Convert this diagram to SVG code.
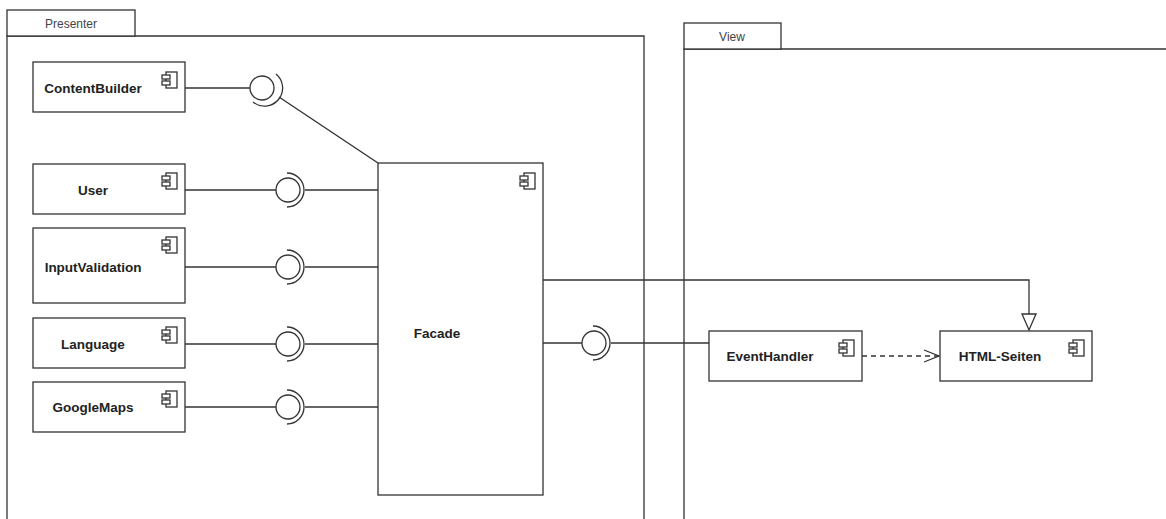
<svg xmlns="http://www.w3.org/2000/svg" width="1166" height="519" viewBox="0 0 1166 519">
<defs>
<style>
.box{fill:#fff;stroke:#333;stroke-width:1.3}
.ln{fill:none;stroke:#333;stroke-width:1.3}
.lbl{font-family:"Liberation Sans",Arial,sans-serif;font-weight:bold;font-size:13.5px;fill:#222;text-anchor:middle}
.pk{font-family:"Liberation Sans",Arial,sans-serif;font-size:12px;fill:#444;text-anchor:middle}
</style>
<g id="ico">
<rect x="4" y="0" width="11" height="16" class="box"/>
<rect x="0" y="3" width="8" height="4" class="box"/>
<rect x="0" y="9" width="8" height="4" class="box"/>
</g>
<marker id="tri" markerWidth="20" markerHeight="20" refX="17" refY="8" orient="auto" markerUnits="userSpaceOnUse">
<path d="M1,1 L17,8 L1,15 Z" fill="#fff" stroke="#333" stroke-width="1.3"/>
</marker>
<marker id="open" markerWidth="20" markerHeight="20" refX="16" refY="7" orient="auto" markerUnits="userSpaceOnUse">
<path d="M1,1 L16,7 L1,13" fill="none" stroke="#333" stroke-width="1.3"/>
</marker>
</defs>
<rect width="1166" height="519" fill="#fff"/>

<g id="pkg-presenter">
<path d="M7,36 H644 V525 H7 Z" class="box"/>
<rect x="7" y="10" width="128" height="26" class="box"/>
<text x="71" y="28" class="pk">Presenter</text>
</g>
<g id="pkg-view">
<path d="M684,49 H1170 V525 H684 Z" class="box"/>
<rect x="684" y="23" width="97" height="26" class="box"/>
<text x="732" y="41" class="pk">View</text>
</g>

<g id="connectors">
<!-- ContentBuilder -->
<line x1="185" y1="88" x2="250" y2="88" class="ln"/>
<circle cx="262" cy="88" r="12" class="ln"/>
<path d="M253,102 A17,17 0 0 0 276,74" class="ln"/>
<line x1="279" y1="97" x2="378" y2="163" class="ln"/>
<!-- User -->
<line x1="185" y1="190" x2="276" y2="190" class="ln"/>
<circle cx="288" cy="190" r="12" class="ln"/>
<path d="M287,173 A17,17 0 0 1 287,207" class="ln"/>
<line x1="305" y1="190" x2="378" y2="190" class="ln"/>
<!-- InputValidation -->
<line x1="185" y1="267" x2="276" y2="267" class="ln"/>
<circle cx="288" cy="267" r="12" class="ln"/>
<path d="M287,250 A17,17 0 0 1 287,284" class="ln"/>
<line x1="305" y1="267" x2="378" y2="267" class="ln"/>
<!-- Language -->
<line x1="185" y1="344" x2="276" y2="344" class="ln"/>
<circle cx="288" cy="344" r="12" class="ln"/>
<path d="M287,327 A17,17 0 0 1 287,361" class="ln"/>
<line x1="305" y1="344" x2="378" y2="344" class="ln"/>
<!-- GoogleMaps -->
<line x1="185" y1="407" x2="276" y2="407" class="ln"/>
<circle cx="288" cy="407" r="12" class="ln"/>
<path d="M287,390 A17,17 0 0 1 287,424" class="ln"/>
<line x1="305" y1="407" x2="378" y2="407" class="ln"/>
<!-- Facade -> EventHandler -->
<line x1="543" y1="343" x2="582" y2="343" class="ln"/>
<circle cx="594" cy="343" r="12" class="ln"/>
<path d="M593,326 A17,17 0 0 1 593,360" class="ln"/>
<line x1="611" y1="343" x2="709" y2="343" class="ln"/>
<!-- Facade -> HTML-Seiten realization -->
<path d="M543,280 H1029 V330" class="ln" marker-end="url(#tri)"/>
<!-- EventHandler -> HTML-Seiten dependency -->
<line x1="862" y1="356" x2="939" y2="356" class="ln" stroke-dasharray="5,4" marker-end="url(#open)"/>
</g>

<g id="ContentBuilder">
<rect x="33" y="62" width="152" height="50" class="box"/>
<use href="#ico" x="162" y="72"/>
<text x="93" y="93" class="lbl">ContentBuilder</text>
</g>
<g id="User">
<rect x="33" y="164" width="152" height="50" class="box"/>
<use href="#ico" x="162" y="173"/>
<text x="93" y="195" class="lbl">User</text>
</g>
<g id="InputValidation">
<rect x="33" y="228" width="152" height="75" class="box"/>
<use href="#ico" x="162" y="237"/>
<text x="93" y="272" class="lbl">InputValidation</text>
</g>
<g id="Language">
<rect x="33" y="318" width="152" height="50" class="box"/>
<use href="#ico" x="162" y="327"/>
<text x="93" y="349" class="lbl">Language</text>
</g>
<g id="GoogleMaps">
<rect x="33" y="382" width="152" height="50" class="box"/>
<use href="#ico" x="162" y="391"/>
<text x="93" y="412" class="lbl">GoogleMaps</text>
</g>
<g id="Facade">
<rect x="378" y="163" width="165" height="332" class="box"/>
<use href="#ico" x="520" y="173"/>
<text x="437" y="338" class="lbl">Facade</text>
</g>
<g id="EventHandler">
<rect x="709" y="331" width="153" height="50" class="box"/>
<use href="#ico" x="839" y="340"/>
<text x="770" y="361" class="lbl">EventHandler</text>
</g>
<g id="HTML-Seiten">
<rect x="940" y="331" width="152" height="50" class="box"/>
<use href="#ico" x="1069" y="340"/>
<text x="1000" y="361" class="lbl">HTML-Seiten</text>
</g>
</svg>
